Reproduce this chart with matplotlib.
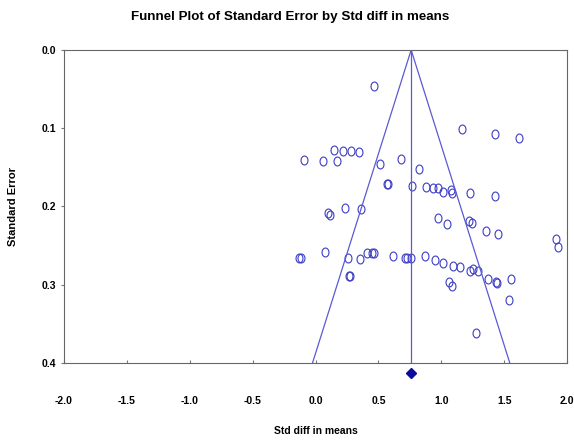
import numpy as np
import matplotlib.pyplot as plt
from matplotlib.path import Path

# Study points
std_diff = [0.465, 0.147, 0.219, 0.282, 0.346, -0.09, 0.06, 0.17, 0.513, 0.68,
            0.823, 0.565, 0.575, 0.767, 0.88, 0.93, 0.97, 1.01, 1.08, 1.085,
            1.23, 1.43, 1.165, 1.43, 1.62,
            0.10, 0.112, 0.235, 0.36, -0.13, -0.117, 0.075, 0.258, 0.262, 0.27,
            0.354, 0.41, 0.45, 0.465, 0.616, 0.71, 0.73, 0.76, 0.87, 0.95,
            0.974, 1.045, 1.22, 1.245, 1.356, 1.45, 1.91, 1.93,
            1.01, 1.09, 1.15, 1.23, 1.25, 1.29, 1.37, 1.435, 1.443,
            1.06, 1.085, 1.555, 1.54, 1.276]
std_err = [0.046, 0.128, 0.129, 0.129, 0.130, 0.141, 0.142, 0.142, 0.146, 0.140,
           0.152, 0.171, 0.171, 0.174, 0.175, 0.176, 0.177, 0.181, 0.179, 0.183,
           0.183, 0.187, 0.101, 0.107, 0.112,
           0.209, 0.211, 0.202, 0.203, 0.266, 0.266, 0.258, 0.266, 0.289, 0.289,
           0.267, 0.259, 0.260, 0.260, 0.263, 0.266, 0.266, 0.266, 0.264, 0.268,
           0.215, 0.222, 0.219, 0.221, 0.232, 0.235, 0.242, 0.252,
           0.272, 0.276, 0.277, 0.282, 0.280, 0.282, 0.293, 0.296, 0.298,
           0.296, 0.302, 0.293, 0.320, 0.362]

summary_effect = 0.76
se_max = 0.4
x_ticks = [-2.0, -1.5, -1.0, -0.5, 0.0, 0.5, 1.0, 1.5, 2.0]
y_ticks = [0.0, 0.1, 0.2, 0.3, 0.4]

plt.rcParams['font.family'] = ['Liberation Sans Narrow', 'Liberation Sans', 'DejaVu Sans']

fig = plt.figure(figsize=(5.74, 4.42), dpi=100)
ax = fig.add_axes([0.1115, 0.179, 0.8765, 0.708])

# slightly tall open circles like the original
t = np.linspace(0, 2 * np.pi, 60)
oval = Path(np.column_stack([0.78 * np.cos(t), np.sin(t)]), closed=True)

ax.plot(std_diff, std_err, linestyle='none', marker=oval, markersize=6.4,
        markerfacecolor='none', markeredgecolor='#3c3cc4', markeredgewidth=0.8)

# funnel: 95% limits and the summary line
line_col = '#5a5ad6'
ax.plot([summary_effect - 1.96 * se_max, summary_effect, summary_effect + 1.96 * se_max],
        [se_max, 0, se_max], color=line_col, lw=0.9)
ax.plot([summary_effect, summary_effect], [0, se_max], color=line_col, lw=0.9)

# summary diamond below the axis
ax.plot([summary_effect], [se_max + 0.013], marker='D', markersize=5,
        color='#0c0c9c', clip_on=False)

ax.set_xlim(-2.0, 2.0)
ax.set_ylim(se_max, 0.0)
ax.set_xticks(x_ticks)
ax.set_yticks(y_ticks)
ax.set_xticklabels(['%.1f' % v for v in x_ticks], fontsize=7.5, fontweight='bold')
ax.set_yticklabels(['%.1f' % v for v in y_ticks], fontsize=7.5, fontweight='bold')
ax.tick_params(axis='x', direction='in', length=2, pad=24, color='#777777')
ax.tick_params(axis='y', direction='out', length=2.5, pad=3, color='#777777')
for s in ax.spines.values():
    s.set_color('#666666')
    s.set_linewidth(0.8)

ax.set_xlabel('Std diff in means', fontsize=7.5, fontweight='bold', labelpad=14)
ax.set_ylabel('Standard Error', fontsize=8, fontweight='bold', labelpad=17)

fig.text(0.505, 1 - 17 / 442, 'Funnel Plot of Standard Error by Std diff in means',
         ha='center', va='center', fontsize=9.6, fontweight='bold')

fig.savefig('out.png', dpi=100)
